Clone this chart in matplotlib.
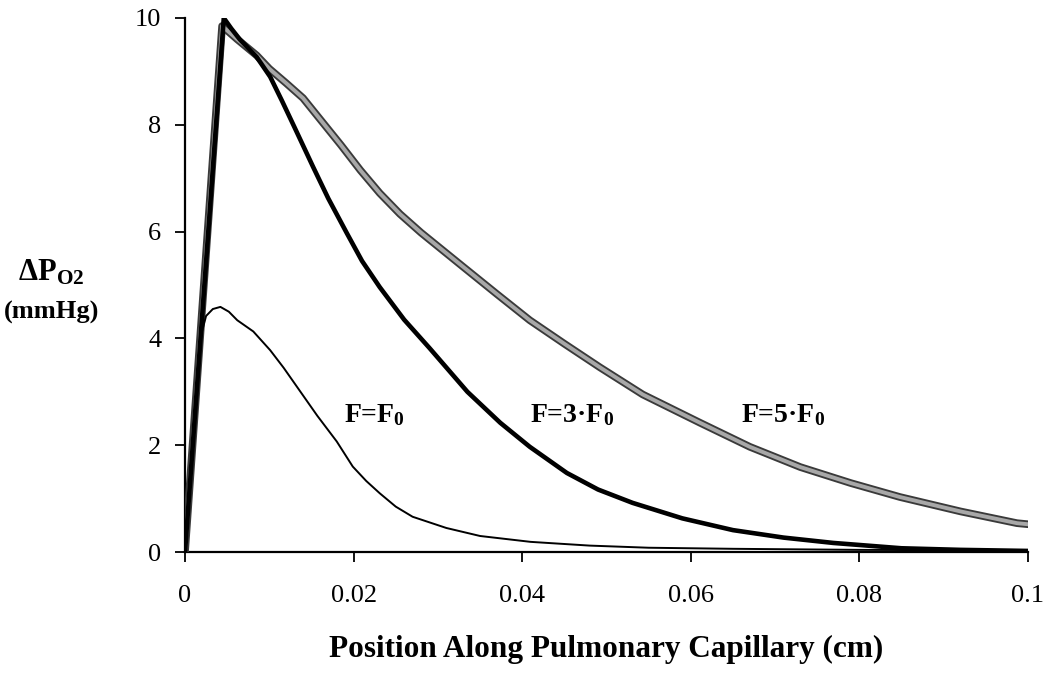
import matplotlib
matplotlib.use("Agg")
import matplotlib.pyplot as plt

plt.rcParams['font.family'] = ['Liberation Serif', 'DejaVu Serif']
plt.rcParams['mathtext.fontset'] = 'custom'
plt.rcParams['mathtext.rm'] = 'Liberation Serif'
plt.rcParams['mathtext.bf'] = 'Liberation Serif:bold'
plt.rcParams['mathtext.it'] = 'Liberation Serif:italic'

# F = 5*F0 (gray)
x5 = [0, 0.0044, 0.0062, 0.0085, 0.010, 0.012, 0.014, 0.0163, 0.0185, 0.0208,
      0.0231, 0.0255, 0.028, 0.033, 0.037, 0.0409, 0.045, 0.0492, 0.0543, 0.0611, 0.067,
      0.073, 0.079, 0.0848, 0.092, 0.0987, 0.1]
y5 = [0, 9.85, 9.6, 9.3, 9.05, 8.78, 8.5, 8.05, 7.62, 7.15,
      6.72, 6.33, 5.98, 5.34, 4.83, 4.34, 3.9, 3.46, 2.95, 2.42, 1.97,
      1.59, 1.29, 1.03, 0.76, 0.54, 0.52]

# F = 3*F0 (thick black)
x3 = [0, 0.0046, 0.0055, 0.0065, 0.0085, 0.0101, 0.0115, 0.013, 0.0152, 0.017,
      0.0192, 0.021, 0.0231, 0.026, 0.029, 0.0335, 0.0374, 0.0409, 0.0453, 0.049,
      0.0531, 0.059, 0.065, 0.071, 0.0769, 0.085, 0.092, 0.1]
y3 = [0, 10.0, 9.8, 9.6, 9.27, 8.9, 8.45, 7.95, 7.21, 6.62,
      5.97, 5.45, 4.96, 4.35, 3.82, 3.0, 2.42, 1.97, 1.48, 1.17,
      0.92, 0.63, 0.41, 0.27, 0.17, 0.07, 0.04, 0.02]

# F = F0 (thin black)
x1 = [0, 0.0018, 0.0025, 0.0033, 0.0042, 0.0052, 0.0062, 0.0081, 0.0101, 0.0117,
      0.0133, 0.0157, 0.018, 0.0199, 0.0215, 0.0231, 0.025, 0.027, 0.031, 0.035,
      0.041, 0.048, 0.055, 0.065, 0.08, 0.1]
y1 = [0, 4.0, 4.42, 4.55, 4.59, 4.5, 4.34, 4.13, 3.78, 3.45,
      3.09, 2.55, 2.07, 1.6, 1.33, 1.1, 0.85, 0.66, 0.45, 0.3,
      0.19, 0.12, 0.08, 0.06, 0.04, 0.03]

xticks = [0, 0.02, 0.04, 0.06, 0.08, 0.1]
xticklabels = ['0', '0.02', '0.04', '0.06', '0.08', '0.1']
yticks = [0, 2, 4, 6, 8, 10]
yticklabels = ['0', '2', '4', '6', '8', '10']

fig = plt.figure(figsize=(10.5, 6.74), dpi=100)
ax = fig.add_axes([0.1762, 0.181, 0.979 - 0.1762, 0.9733 - 0.181])

ax.plot(x5, y5, color='#3a3a3a', lw=5.5, solid_joinstyle='round', solid_capstyle='round', zorder=3)
ax.plot(x5, y5, color='#a8a8a8', lw=2.8, solid_joinstyle='round', solid_capstyle='round', zorder=3.1)
ax.plot(x3, y3, color='black', lw=3.3, solid_joinstyle='round', zorder=4)
ax.plot(x1, y1, color='black', lw=1.4, solid_joinstyle='round', zorder=5)

ax.set_xlim(0, 0.1)
ax.set_ylim(0, 10)
ax.set_xticks(xticks)
ax.set_xticklabels(xticklabels)
ax.set_yticks(yticks)
ax.set_yticklabels(yticklabels)
ax.tick_params(axis='both', direction='out', length=7, width=1.3, labelsize=19, colors='black')
ax.tick_params(axis='x', pad=17)
ax.tick_params(axis='y', pad=10)
for s in ['top', 'right']:
    ax.spines[s].set_visible(False)
for s in ['left', 'bottom']:
    ax.spines[s].set_linewidth(1.6)

ax.set_xlabel('Position Along Pulmonary Capillary (cm)', fontsize=22.5, fontweight='bold', labelpad=20)

fig.text(51 / 1050, 1 - 273 / 674, r'$\mathbf{\Delta P}_{\mathbf{O2}}$', fontsize=22, ha='center', va='center')
fig.text(52 / 1050, 1 - 312 / 674, '(mmHg)', fontsize=19, fontweight='bold', ha='center', va='center')

ax.text(0.0225, 2.57, r'F=F$_\mathbf{0}$', fontsize=20, fontweight='bold', ha='center', va='center')
ax.text(0.0459, 2.57, r'F=3·F$_\mathbf{0}$', fontsize=20, fontweight='bold', ha='center', va='center')
ax.text(0.0709, 2.57, r'F=5·F$_\mathbf{0}$', fontsize=20, fontweight='bold', ha='center', va='center')

fig.savefig('out.png', dpi=100)
